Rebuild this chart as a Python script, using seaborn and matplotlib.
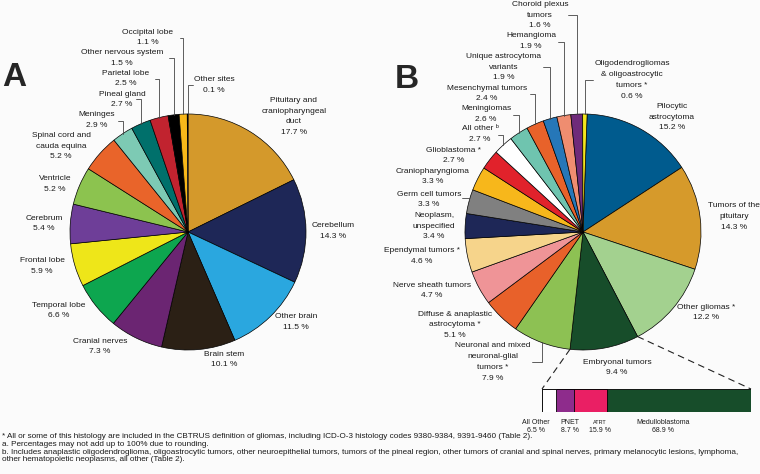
# Pie charts of childhood brain tumors by site (A) and histology (B)
import numpy as np
import seaborn as sns
import matplotlib.pyplot as plt

sns.set_theme(style="white")
plt.rcParams['font.family'] = ['Liberation Sans', 'DejaVu Sans']

# ---- data: panel A (site) ----
site_labels = ['Pituitary and\ncraniopharyngeal\nduct', 'Cerebellum', 'Other brain', 'Brain stem',
               'Cranial nerves', 'Temporal lobe', 'Frontal lobe', 'Cerebrum', 'Ventricle',
               'Spinal cord and\ncauda equina', 'Meninges', 'Pineal gland', 'Parietal lobe',
               'Other nervous system', 'Occipital lobe', 'Other sites']
site_pct = [17.7, 14.3, 11.5, 10.1, 7.3, 6.6, 5.9, 5.4, 5.2, 5.2, 2.9, 2.7, 2.5, 1.5, 1.1, 0.1]
site_colors = ['#D4992B', '#1E2757', '#2AA7DF', '#2B2015', '#6B2572', '#0DA64F', '#EEE619',
               '#6E3E98', '#8CC34F', '#E9642A', '#7DCAB4', '#00706B', '#C1232F', '#000000',
               '#F8B81A', '#FFFFFF']

# ---- data: panel B (histology) ----
hist_labels = ['Pilocytic\nastrocytoma', 'Tumors of the\npituitary', 'Other gliomas *',
               'Embryonal tumors', 'Neuronal and mixed\nneuronal-glial\ntumors *',
               'Diffuse & anaplastic\nastrocytoma *', 'Nerve sheath tumors', 'Ependymal tumors *',
               'Neoplasm,\nunspecified', 'Germ cell tumors', 'Craniopharyngioma', 'Glioblastoma *',
               'All other \u1d47', 'Meningiomas', 'Mesenchymal tumors', 'Unique astrocytoma\nvariants',
               'Hemangioma', 'Choroid plexus\ntumors', 'Oligodendrogliomas\n& oligoastrocytic\ntumors *']
hist_pct = [15.2, 14.3, 12.2, 9.4, 7.9, 5.1, 4.7, 4.6, 3.4, 3.3, 3.3, 2.7, 2.7, 2.6, 2.4,
            1.9, 1.9, 1.6, 0.6]
hist_colors = ['#005B8E', '#D69A2B', '#A3D18F', '#174D2A', '#8DC153', '#E8612A', '#EF9497',
               '#F6D48B', '#1E2757', '#808080', '#F7B71B', '#E1222B', '#FFFFFF', '#6FC4AF',
               '#E8622A', '#2677B8', '#EF8D70', '#6F2B7A', '#F3E61D']

# ---- data: embryonal tumor breakdown ----
emb_labels = ['All Other', 'PNET', 'ATRT', 'Medulloblastoma']
emb_pct = [6.5, 8.7, 15.9, 68.9]
emb_colors = ['#FFFFFF', '#8E2C8C', '#EA1F64', '#174D2A']

W, H = 760, 474
fig = plt.figure(figsize=(W / 100, H / 100), dpi=100, facecolor='#fbfbfb')
ax = fig.add_axes([0, 0, 1, 1])

# pie geometry in pixels (y from top)
A_cx, A_cy, A_r, A_start = 188, 232, 118, 90
B_cx, B_cy, B_r, B_start = 583, 232, 118, 88

wp = dict(edgecolor='black', linewidth=0.5)
ax.pie(site_pct, colors=site_colors, startangle=A_start, counterclock=False,
       center=(A_cx, H - A_cy), radius=A_r, wedgeprops=wp)
ax.pie(hist_pct, colors=hist_colors, startangle=B_start, counterclock=False,
       center=(B_cx, H - B_cy), radius=B_r, wedgeprops=wp)
ax.set_xlim(0, W)
ax.set_ylim(0, H)
ax.set_aspect('auto')
ax.axis('off')


def edge_point(vals, i, cx, cy, r, start, where=0.5):
    vals = np.asarray(vals, float)
    frac = (vals[:i].sum() + vals[i] * where) / vals.sum()
    ang = np.deg2rad(start - 360 * frac)
    return cx + r * np.cos(ang), (H - cy) + r * np.sin(ang)


# label positions (pixel centers)
site_pos = [(294, 116.5), (333, 231), (296, 322), (224, 359.5), (100, 346.5), (59, 310.5),
            (42, 266), (44, 223.5), (55, 184), (61, 146), (97, 120), (122, 99.5),
            (126, 78.5), (122, 58), (148, 37.5), (214, 85)]
hist_pos = [(672, 117), (734, 216.5), (706, 312.5), (617, 367.5), (493, 362), (455, 325),
            (432, 290.5), (422, 256), (434, 226), (429, 199.5), (433, 176.5), (454, 155.5),
            (480, 134), (486, 114), (487, 93.5), (504, 67), (531, 41), (540, 15), (632, 80)]

txt = dict(fontsize=6, ha='center', va='center', linespacing=1.75, color='#1a1a1a')
for name, v, (x, y) in zip(site_labels, site_pct, site_pos):
    ax.text(x, H - y, f'{name}\n{v} %', **txt)
for name, v, (x, y) in zip(hist_labels, hist_pct, hist_pos):
    ax.text(x, H - y, f'{name}\n{v} %', **txt)

# leader lines: (slice index, start x, elbow y)
site_leaders = [(10, 118, 121), (11, 136, 99), (12, 155, 79), (13, 169, 58),
                (14, 180, 38), (15, 193, 85)]
hist_leaders = [(9, 462, 198), (4, 532, 362), (12, 498, 135), (13, 513, 115),
                (14, 530, 94), (15, 543, 67), (16, 558, 42), (17, 568, 15), (18, 593, 80)]
lk = dict(color='#444444', lw=0.6)
for i, x0, y0 in site_leaders:
    ex, ey = edge_point(site_pct, i, A_cx, A_cy, A_r, A_start)
    ax.plot([x0, ex, ex], [H - y0, H - y0, ey], **lk)
for i, x0, y0 in hist_leaders:
    ex, ey = edge_point(hist_pct, i, B_cx, B_cy, B_r, B_start)
    ax.plot([x0, ex, ex], [H - y0, H - y0, ey], **lk)

# stacked bar for embryonal tumors
bar_x0, bar_x1, bar_y0, bar_y1 = 542, 751, 389, 412
lx, ly = edge_point(hist_pct, 3, B_cx, B_cy, B_r, B_start, where=1.0)
rx, ry = edge_point(hist_pct, 3, B_cx, B_cy, B_r, B_start, where=0.0)
dk = dict(color='#222222', lw=0.8, ls=(0, (6, 4)))
ax.plot([lx, bar_x0], [ly, H - bar_y0], **dk)
ax.plot([rx, bar_x1], [ry, H - bar_y0], **dk)

bx = fig.add_axes([bar_x0 / W, (H - bar_y1) / H, (bar_x1 - bar_x0) / W, (bar_y1 - bar_y0) / H])
ends = np.cumsum(emb_pct)
for end, col in zip(ends[::-1], emb_colors[::-1]):
    sns.barplot(x=[end], y=['Embryonal'], color=col, saturation=1, width=1, orient='h',
                edgecolor='black', linewidth=0.6, ax=bx)
bx.set_xlim(0, ends[-1])
bx.set_ylim(0.5, -0.5)
bx.axis('off')

emb_x = [536, 570, 600, 663]
for name, v, x in zip(emb_labels, emb_pct, emb_x):
    ax.text(x, H - 422, name, fontsize=4 if name == 'ATRT' else 5, ha='center', va='center',
            color='#1a1a1a')
    ax.text(x, H - 431, f'{v} %', fontsize=5, ha='center', va='center', color='#1a1a1a')

# panel letters
ax.text(14, H - 77, 'A', fontsize=24, fontweight='bold', ha='center', va='center')
ax.text(407, H - 79, 'B', fontsize=24, fontweight='bold', ha='center', va='center')

# footnotes
notes = ['* All or some of this histology are included in the CBTRUS definition of gliomas, '
         'including ICD-O-3 histology codes 9380-9384, 9391-9460 (Table 2).',
         'a. Percentages may not add up to 100% due to rounding.',
         'b. Includes anaplastic oligodendroglioma, oligoastrocytic tumors, other neuroepithelial '
         'tumors, tumors of the pineal region, other tumors of cranial and spinal nerves, primary '
         'melanocytic lesions, lymphoma,',
         'other hematopoietic neoplasms, all other (Table 2).']
for k, note in enumerate(notes):
    ax.text(2, H - (437 + 7.5 * k), note, fontsize=5.85, ha='left', va='center', color='#1a1a1a')

fig.savefig('out.png', dpi=100, facecolor=fig.get_facecolor())
